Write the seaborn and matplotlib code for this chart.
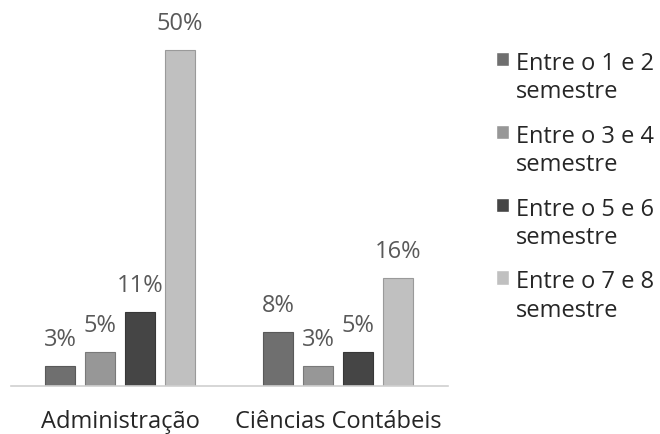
import matplotlib
matplotlib.use("Agg")
import matplotlib.pyplot as plt
import matplotlib.colors as mcolors
import seaborn as sns
import pandas as pd

categories = ["Administração", "Ciências Contábeis"]
series = ["Entre o 1 e 2\nsemestre", "Entre o 3 e 4\nsemestre",
          "Entre o 5 e 6\nsemestre", "Entre o 7 e 8\nsemestre"]
values_s1 = [3, 8]
values_s2 = [5, 3]
values_s3 = [11, 5]
values_s4 = [50, 16]
colors = ["#6f6f6f", "#979797", "#454545", "#c0c0c0"]

rows = []
for s, vals in zip(series, [values_s1, values_s2, values_s3, values_s4]):
    for c, v in zip(categories, vals):
        rows.append({"Curso": c, "Semestre": s, "Valor": v})
df = pd.DataFrame(rows)

sns.set_theme(style="white")
plt.rcParams["font.family"] = ["Open Sans", "DejaVu Sans"]
FS = 17

fig = plt.figure(figsize=(6.6, 4.34), dpi=100)
ax = fig.add_axes([11 / 660, 1 - 386 / 434, (448 - 11) / 660, (386 - 16) / 434])

sns.barplot(data=df, x="Curso", y="Valor", hue="Semestre", hue_order=series,
            order=categories, palette=colors, width=0.73, gap=0.25,
            ax=ax, saturation=1, legend=True)

for cont in ax.containers:
    for p in cont.patches:
        fc = mcolors.to_rgb(p.get_facecolor())
        p.set_edgecolor(tuple(max(0, x * 0.8) for x in fc))
        p.set_linewidth(0.8)
    ax.bar_label(cont, labels=[f"{int(v)}%" for v in cont.datavalues],
                 padding=10, fontsize=FS, color="#595959")

ax.set_xlim(-0.5, 1.505)
ax.set_ylim(0, 55)
ax.set_xlabel("")
ax.set_ylabel("")
ax.set_yticks([])
for side in ["left", "right", "top"]:
    ax.spines[side].set_visible(False)
ax.spines["bottom"].set_color("#d0d0d0")
ax.spines["bottom"].set_linewidth(1.2)
ax.tick_params(axis="x", length=0, pad=17, labelsize=FS, labelcolor="#262626")

h, l = ax.get_legend_handles_labels()
leg = ax.legend(h, l, loc="upper left", bbox_to_anchor=(496 / 660, 1 - 52 / 434),
                bbox_transform=fig.transFigure, frameon=False, fontsize=FS,
                handlelength=0.55, handleheight=0.55, handletextpad=0.3,
                labelspacing=0.86, labelcolor="#262626", borderpad=0,
                borderaxespad=0)
for t in leg.get_texts():
    t.set_linespacing(1.25)
for col in leg._legend_handle_box.get_children():
    for row in col.get_children():
        row.align = "top"

fig.savefig("out.png", dpi=100)
